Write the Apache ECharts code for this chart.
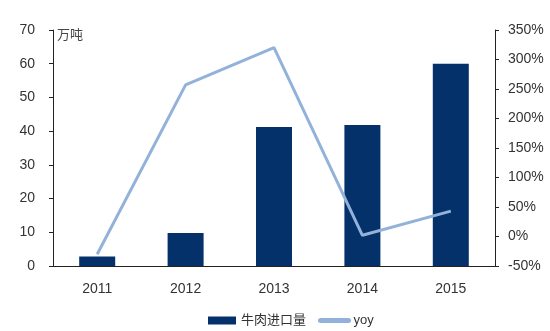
<!DOCTYPE html>
<html>
<head>
<meta charset="utf-8">
<script src="https://cdn.jsdelivr.net/npm/echarts@6/dist/echarts.min.js"></script>
<style>html,body{margin:0;padding:0;background:#fff;}#c{width:550px;height:331px;}</style>
</head>
<body>
<div id="c"></div>
<script>
var categories = ['2011', '2012', '2013', '2014', '2015'];
var importVolume = [2.8, 9.8, 41.2, 41.8, 60];
var yoy = [-30, 257, 320, 2, 43];
var leftTicks = [0, 10, 20, 30, 40, 50, 60, 70];
var rightTicks = [-50, 0, 50, 100, 150, 200, 250, 300, 350];

var font = 'Liberation Sans, Arial, Noto Sans CJK SC, sans-serif';
var chart = echarts.init(document.getElementById('c'), null, {renderer: 'canvas'});
chart.setOption({
  animation: false,
  backgroundColor: '#fff',
  grid: {left: 53, right: 55, top: 30, bottom: 65},
  legend: {
    left: 203, top: 309,
    itemWidth: 28, itemHeight: 8, itemGap: 12,
    textStyle: {fontFamily: font, fontSize: 13, color: '#333'},
    data: [
      {name: '牛肉进口量', icon: 'rect'},
      {name: 'yoy', itemStyle: {opacity: 0}, lineStyle: {width: 5, cap: 'round', color: '#93b2d9'}}
    ]
  },
  graphic: [{
    type: 'text', left: 57, top: 29,
    style: {text: '万吨', font: '13px ' + font, fill: '#444'}
  }],
  xAxis: {
    type: 'category', data: categories,
    axisLine: {lineStyle: {color: '#222', width: 1}},
    axisTick: {show: false},
    axisLabel: {margin: 16, fontFamily: font, fontSize: 14, color: '#333'}
  },
  yAxis: [{
    type: 'value', min: leftTicks[0], max: leftTicks[leftTicks.length - 1], interval: 10,
    axisLine: {show: true, lineStyle: {color: '#222'}},
    axisTick: {show: true, length: 4, lineStyle: {color: '#222'}},
    splitLine: {show: false},
    axisLabel: {margin: 18, fontFamily: font, fontSize: 14, color: '#333'}
  }, {
    type: 'value', min: rightTicks[0], max: rightTicks[rightTicks.length - 1], interval: 50,
    axisLine: {show: true, lineStyle: {color: '#222'}},
    axisTick: {show: true, length: 4, lineStyle: {color: '#222'}},
    splitLine: {show: false},
    axisLabel: {margin: 13, fontFamily: font, fontSize: 14, color: '#333', formatter: '{value}%'}
  }],
  series: [{
    name: '牛肉进口量', type: 'bar', data: importVolume, barWidth: 36,
    itemStyle: {color: '#04316a'}
  }, {
    name: 'yoy', type: 'line', yAxisIndex: 1, data: yoy,
    symbol: 'none', lineStyle: {color: '#93b2d9', width: 3},
    itemStyle: {color: '#93b2d9'}
  }]
});
</script>
</body>
</html>
